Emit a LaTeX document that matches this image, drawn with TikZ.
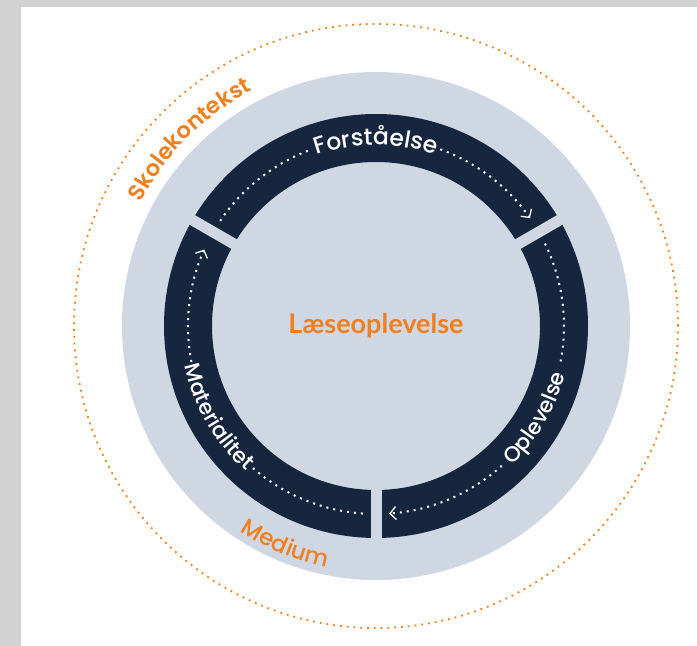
\documentclass[tikz,border=0pt]{standalone}
\usepackage{fontspec}
\usetikzlibrary{arrows.meta,decorations.text}
\newfontfamily\ringfont{Poppins}[UprightFont=* Medium, BoldFont=* SemiBold]
\newfontfamily\corefont{Lato}
\definecolor{ringblue}{HTML}{17263F}
\definecolor{discgray}{HTML}{CFD8E2}
\definecolor{labelorange}{HTML}{F07F1F}
\definecolor{framegray}{HTML}{D2D2D2}

\begin{document}
\begin{tikzpicture}[x=1pt,y=1pt,
  flow/.style={white, line width=2pt, dash pattern=on 2pt off 5pt},
  flowtip/.style={flow, -{Straight Barb[length=6pt,width=13pt,line width=1.3pt]}},
  ringtext/.style={decorate, decoration={text along path, text align=center, text color=white}},
  outertext/.style={decorate, decoration={text along path, text align=center, text color=labelorange}}]
\useasboundingbox (0,0) rectangle (697,646);
\fill[framegray] (0,0) rectangle (697,646);
\fill[white] (21,0) rectangle (697,639);
\coordinate (c) at (376,320);

% school context
\draw[labelorange, line width=1.8pt, dash pattern=on 1.8pt off 5pt] (c) circle[radius=302];
\fill[discgray] (c) circle[radius=254];

% the ring and its three cuts
\fill[ringblue, even odd rule] (c) circle[radius=212] (c) circle[radius=164];
\foreach \a in {30,150,270}
  \draw[discgray, line width=11pt] (c) ++(\a:158) -- ++(\a:58);

% Forstaaelse
\draw[flow] (c) ++(146:188) arc[start angle=146, end angle=111, radius=188];
\draw[flowtip] (c) ++(70:188) arc[start angle=70, end angle=35, radius=188];
\path[ringtext, decoration={text={|\ringfont\fontsize{23.5}{23.5}\selectfont|Forståelse}}]
  (c) ++(120:181) arc[start angle=120, end angle=60, radius=181];

% Oplevelse
\draw[flow] (c) ++(26:188) arc[start angle=26, end angle=-12, radius=188];
\draw[flowtip] (c) ++(-48:188) arc[start angle=-48, end angle=-86, radius=188];
\path[ringtext, decoration={text={|\ringfont\fontsize{21.5}{21.5}\selectfont|Oplevelse}}]
  (c) ++(-60:195) arc[start angle=-60, end angle=0, radius=195];

% Materialitet
\draw[flow] (c) ++(266:188) arc[start angle=266, end angle=229, radius=188];
\draw[flowtip] (c) ++(191:188) arc[start angle=191, end angle=156, radius=188];
\path[ringtext, decoration={text={|\ringfont\fontsize{21.5}{21.5}\selectfont|Materialitet}}]
  (c) ++(180:195) arc[start angle=180, end angle=240, radius=195];

% outer labels
\path[outertext, decoration={text={|\ringfont\bfseries\fontsize{22.5}{22.5}\selectfont|Skolekontekst}}]
  (c) ++(165:266) arc[start angle=165, end angle=105, radius=266];
\path[outertext, decoration={text={|\ringfont\fontsize{23}{23}\selectfont|Medium}}]
  (c) ++(225:246) arc[start angle=225, end angle=270, radius=246];

\node[font=\corefont\bfseries\fontsize{27}{27}\selectfont, text=labelorange] (core) at (c) {Læseoplevelse};
\end{tikzpicture}
\end{document}
